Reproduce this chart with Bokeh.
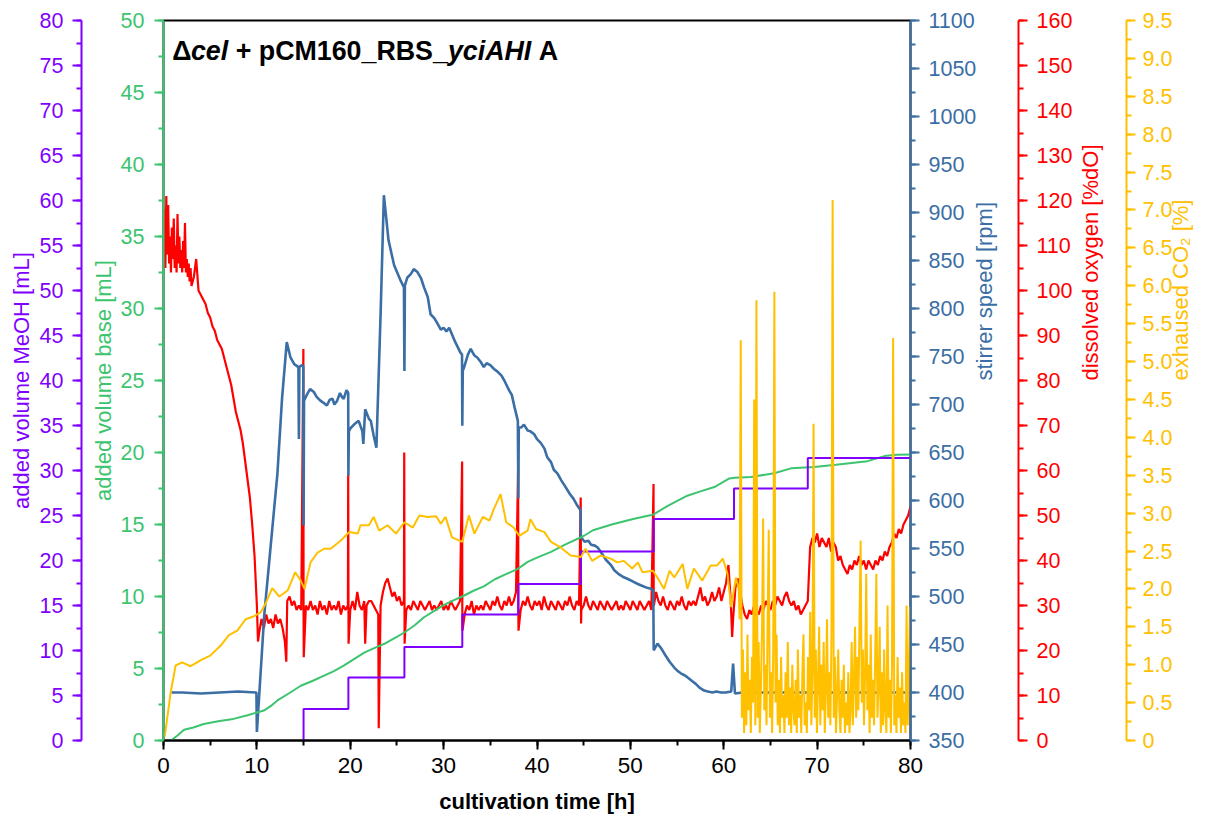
import math
from bokeh.plotting import figure
from bokeh.models import (Range1d, LinearAxis, SingleIntervalTicker, FixedTicker,
                          CustomJSTickFormatter, Label)
from bokeh.embed import file_html
from bokeh.resources import INLINE

# ---------------------------------------------------------------- data
# added volume MeOH [mL] (step function)
meoh_time_h = [15.0, 15.0, 19.8, 25.8, 32.0, 38.0, 44.7, 52.5, 61.1, 69.0, 80.0]
meoh_ml = [0.0, 3.5, 7.0, 10.4, 14.0, 17.4, 21.0, 24.6, 28.0, 31.4, 31.4]

# added volume base [mL]
base_time_h = [0.8, 1.5, 2.2, 3.2, 4.3, 6.0, 7.5, 9.0, 10.0, 10.75,
               11.5, 12.2, 13.5, 14.7, 16.0, 17.2, 18.2, 19.3, 20.4, 21.5,
               22.5, 23.6, 24.7, 25.8, 26.9, 27.9, 29.0, 30.0, 31.1, 32.2,
               33.2, 34.3, 35.5, 36.5, 37.9, 39.0, 40.0, 41.5, 43.0, 45.0,
               46.0, 48.0, 50.4, 52.5, 54.0, 56.1, 57.5, 59.0, 60.6, 61.2,
               62.9, 65.4, 67.2, 69.7, 72.0, 75.4, 77.2, 78.5, 80.0]
base_ml = [0.0, 0.35, 0.74, 0.9, 1.15, 1.35, 1.5, 1.75, 1.95, 2.08,
           2.4, 2.78, 3.3, 3.8, 4.15, 4.5, 4.8, 5.2, 5.65, 6.1,
           6.4, 6.7, 7.1, 7.5, 8.0, 8.56, 9.0, 9.4, 9.75, 10.07,
           10.4, 10.7, 11.2, 11.5, 11.9, 12.4, 12.7, 13.1, 13.6, 14.2,
           14.6, 15.0, 15.4, 15.7, 16.3, 17.0, 17.3, 17.6, 18.2, 18.25,
           18.3, 18.56, 18.9, 19.0, 19.15, 19.4, 19.75, 19.85, 19.86]

# stirrer speed [rpm]
stirrer_time_h = [0.85, 2.0, 4.0, 6.0, 8.0, 9.95, 10.0, 10.8, 11.3, 12.2,
                  12.7, 13.2, 13.6, 14.0, 14.45, 14.5, 14.55, 14.8, 14.97, 15.0,
                  15.05, 15.4, 15.7, 16.1, 16.4, 16.8, 17.1, 17.5, 17.8, 18.1,
                  18.3, 18.6, 18.9, 19.1, 19.3, 19.6, 19.78, 19.8, 19.85, 20.0,
                  20.5, 20.9, 21.3, 21.4, 21.6, 22.0, 22.2, 22.5, 22.8, 23.25,
                  23.6, 24.1, 24.7, 25.4, 25.75, 25.8, 25.85, 26.1, 26.5, 26.8,
                  27.2, 27.6, 27.9, 28.3, 28.6, 29.0, 29.3, 29.7, 30.0, 30.3,
                  30.6, 31.2, 31.8, 31.97, 32.0, 32.05, 32.2, 32.6, 32.9, 33.3,
                  33.6, 34.0, 34.3, 34.6, 35.0, 35.4, 35.8, 36.2, 36.5, 37.0,
                  37.3, 37.6, 37.95, 38.0, 38.05, 38.3, 38.6, 39.0, 39.3, 39.7,
                  40.0, 40.4, 40.8, 41.1, 41.5, 41.8, 42.2, 42.6, 43.0, 43.5,
                  43.9, 44.3, 44.65, 44.7, 45.1, 45.5, 45.8, 46.2, 46.5, 47.0,
                  47.4, 47.9, 48.3, 48.8, 49.3, 49.8, 50.4, 50.8, 51.3, 51.8,
                  52.2, 52.45, 52.5, 52.9, 53.3, 53.8, 54.2, 54.7, 55.0, 55.4,
                  55.8, 56.1, 56.6, 57.0, 57.4, 57.9, 58.3, 58.8, 59.2, 59.7,
                  60.2, 60.8, 61.0, 61.2, 62.0, 65.0, 70.0, 75.0, 80.0]
stirrer_rpm = [400, 400, 399, 400, 401, 400, 359, 482, 534, 628,
               707, 765, 749, 742, 739, 664, 739, 741, 740, 574,
               704, 711, 716, 713, 708, 704, 702, 699, 705, 706,
               700, 704, 712, 708, 706, 715, 712, 626, 672, 675,
               680, 683, 672, 659, 695, 685, 683, 668, 655, 794,
               918, 871, 845, 829, 822, 735, 824, 832, 836, 841,
               838, 831, 822, 812, 794, 790, 785, 778, 780, 776,
               780, 766, 754, 752, 678, 735, 739, 752, 758, 751,
               749, 744, 739, 743, 741, 737, 734, 730, 725, 715,
               710, 697, 683, 602, 676, 676, 679, 673, 672, 669,
               664, 660, 654, 645, 640, 632, 628, 621, 615, 607,
               602, 595, 590, 562, 557, 558, 554, 553, 551, 544,
               538, 533, 527, 523, 520, 518, 515, 513, 511, 509,
               508, 506, 444, 451, 446, 438, 432, 426, 423, 420,
               418, 416, 412, 409, 405, 402, 401, 400, 401, 400,
               400, 401, 430, 399, 400, 400, 400, 400, 400]

# dissolved oxygen [%dO]: 0-3 h every 0.1 h
do_start_pct = [110, 118, 105, 121, 108, 119, 106, 112, 104, 114,
                107, 116, 105, 110, 104, 117, 106, 112, 105, 109,
                104, 111, 105, 115, 104, 107, 103, 106, 102, 105, 101]
# 3.25-10.0 h every 0.25 h
do_decline_pct = [103, 107, 100, 99, 98, 97, 95, 94, 92, 91,
                  89, 88, 87, 85, 83, 81, 79, 76, 73, 71,
                  69, 66, 62, 58, 54, 48, 41, 30]
# 10.25-80 h every 0.25 h, one row per hour
do_hourly_pct = [
    [24, 27, 25, 28], [26, 27, 25, 28], [26, 27, 25, 22], [31, 32, 30, 31],  # 10-13
    [29, 30, 29, 29], [30, 29, 31, 29], [30, 28, 31, 29], [30, 28, 31, 29],  # 14-17
    [30, 29, 31, 28], [30, 29, 30, 29], [31, 29, 33, 30], [29, 31, 30, 31],  # 18-21
    [31, 30, 29, 28], [30, 33, 35, 36], [34, 32, 33, 31], [32, 30, 31, 29],  # 22-25
    [30, 29, 31, 30], [29, 31, 30, 29], [30, 31, 29, 30], [29, 30, 31, 29],  # 26-29
    [30, 29, 31, 30], [29, 30, 31, 30], [28, 30, 29, 31], [28, 30, 29, 30],  # 30-33
    [29, 31, 30, 29], [31, 30, 32, 30], [29, 31, 30, 32], [30, 31, 33, 30],  # 34-37
    [29, 31, 30, 32], [30, 29, 31, 30], [31, 29, 32, 30], [29, 31, 30, 29],  # 38-41
    [31, 30, 29, 31], [30, 32, 30, 29], [31, 30, 29, 30], [32, 30, 29, 31],  # 42-45
    [30, 29, 31, 30], [29, 31, 30, 29], [30, 31, 29, 30], [29, 31, 30, 29],  # 46-49
    [31, 30, 29, 31], [30, 29, 30, 31], [29, 31, 33, 31], [30, 32, 30, 29],  # 50-53
    [31, 30, 29, 31], [30, 32, 30, 29], [31, 30, 31, 30], [32, 34, 31, 32],  # 54-57
    [30, 31, 33, 31], [32, 34, 31, 33], [35, 39, 31, 27], [34, 36, 33, 30],  # 58-61
    [28, 27, 29, 28], [30, 29, 28, 30], [29, 31, 30, 29], [31, 30, 32, 31],  # 62-65
    [30, 32, 33, 31], [30, 31, 29, 30], [28, 29, 30, 31], [43, 45, 44, 46],  # 66-69
    [43, 45, 44, 43], [45, 42, 44, 43], [40, 41, 39, 38], [37, 39, 38, 40],  # 70-73
    [39, 41, 39, 40], [38, 40, 39, 38], [40, 39, 41, 40], [42, 41, 43, 44],  # 74-77
    [46, 45, 47, 46], [48, 49, 50, 52],                                      # 78-79
]
# short excursions (sampling / feeding events)
do_event_time_h = [10.12, 13.15, 14.98, 15.02, 19.78, 19.82, 21.6, 23.05, 25.78, 25.82,
                   31.98, 32.02, 37.98, 38.02, 44.68, 44.72, 52.48, 52.52, 60.9]
do_event_pct = [22, 17.5, 87, 18.5, 59, 21.5, 21.5, 2.7, 64, 21.5,
                62, 24.4, 60.7, 24.4, 54, 26, 57, 30, 23]

# exhaused CO2 [%]
co2_time_h = [0.1, 0.2, 0.75, 1.3, 2.0, 2.9, 4.0, 5.0, 6.1, 7.0,
              7.9, 8.8, 9.7, 10.4, 10.9, 11.65, 12.4, 13.3, 14.1, 14.7,
              15.1, 15.75, 16.5, 17.2, 17.9, 19.0, 19.9, 20.8, 21.1, 22.0,
              22.5, 23.1, 24.0, 24.9, 25.8, 26.7, 27.4, 28.3, 29.2, 29.7,
              30.2, 30.9, 32.0, 32.7, 33.3, 34.2, 34.9, 35.4, 36.1, 36.7,
              37.5, 38.1, 39.0, 39.3, 39.9, 40.8, 41.5, 42.5, 43.6, 44.7,
              45.2, 45.9, 46.8, 47.9, 48.6, 49.3, 50.2, 50.8, 51.3, 52.4,
              52.9, 53.6, 54.2, 54.7, 55.6, 56.1, 56.8, 57.7, 58.6, 59.3,
              59.9, 60.4, 60.8, 61.3, 61.6]
co2_pct = [0.05, 0.11, 0.62, 0.99, 1.03, 0.98, 1.06, 1.12, 1.25, 1.39,
           1.45, 1.6, 1.64, 1.69, 1.8, 2.01, 1.9, 1.98, 2.22, 2.11,
           2.0, 2.35, 2.48, 2.53, 2.53, 2.64, 2.75, 2.73, 2.84, 2.84,
           2.95, 2.77, 2.84, 2.73, 2.88, 2.81, 2.97, 2.95, 2.96, 2.86,
           2.95, 2.68, 2.62, 2.97, 2.73, 2.95, 2.9, 3.06, 3.25, 2.88,
           2.81, 2.7, 2.77, 2.92, 2.79, 2.75, 2.62, 2.55, 2.44, 2.42,
           2.53, 2.37, 2.44, 2.4, 2.35, 2.37, 2.27, 2.35, 2.22, 2.24,
           2.15, 2.0, 2.24, 2.15, 2.33, 2.0, 2.27, 2.11, 2.31, 2.31,
           2.4, 2.2, 1.76, 2.15, 2.0]
# 61.70-79.94 h every 0.12 h (unstable off-gas signal)
co2_late_pct = [1.6, 5.28, 0.3, 1.2, 0.1, 0.9, 0.2, 1.4, 0.4, 0.8,
                0.1, 1.1, 0.5, 4.5, 0.2, 5.81, 0.3, 1.3, 0.1, 0.7,
                1.5, 2.93, 0.4, 1.0, 0.2, 1.6, 2.78, 0.3, 0.9, 0.1,
                1.2, 5.92, 0.5, 1.4, 0.2, 0.8, 0.1, 1.1, 0.3, 0.6,
                0.1, 0.9, 0.3, 1.3, 0.2, 0.7, 0.1, 1.0, 0.4, 0.2,
                0.8, 0.1, 1.2, 0.3, 0.6, 0.1, 0.9, 1.4, 0.2, 0.5,
                0.1, 1.1, 0.4, 1.7, 0.2, 0.9, 4.18, 0.3, 1.2, 0.1,
                0.8, 1.5, 0.2, 1.0, 0.4, 1.3, 0.1, 0.7, 1.6, 0.3,
                0.9, 0.2, 1.4, 7.13, 0.3, 1.1, 0.1, 0.6, 1.2, 0.4,
                0.1, 0.8, 0.3, 1.0, 0.1, 0.5, 0.2, 0.9, 0.1, 0.4,
                1.3, 0.2, 0.8, 1.5, 0.3, 1.1, 0.4, 1.6, 2.64, 0.5,
                1.2, 0.2, 0.9, 2.2, 0.4, 1.0, 0.1, 1.4, 0.3, 0.8,
                0.2, 1.1, 2.2, 0.3, 0.7, 1.5, 0.1, 0.9, 0.2, 1.2,
                0.4, 0.1, 1.78, 0.3, 0.8, 0.1, 1.0, 5.31, 0.2, 0.6,
                0.1, 1.1, 0.3, 0.7, 0.1, 0.9, 0.2, 0.5, 0.1, 1.78,
                0.2, 0.9, 1.76]

title_parts = ["\u0394", "cel", "+ pCM160_RBS_", "yciAHI", "A"]
x_label = "cultivation time [h]"
labels = {
    "meoh": "added volume MeOH [mL]",
    "base": "added volume base [mL]",
    "rpm": "stirrer speed [rpm]",
    "do": "dissolved oxygen [%dO]",
    "co2": "exhaused CO\u2082 [%]",
}

# ---------------------------------------------------------------- assemble series
do_t, do_v = [], []
for i, v in enumerate(do_start_pct):
    do_t.append(round(0.1 * i, 2)); do_v.append(v)
for i, v in enumerate(do_decline_pct):
    do_t.append(3.25 + 0.25 * i); do_v.append(v)
for h, row in enumerate(do_hourly_pct):
    for j, v in enumerate(row):
        do_t.append(10 + h + 0.25 * (j + 1)); do_v.append(v)
pairs = sorted(list(zip(do_t, do_v)) + list(zip(do_event_time_h, do_event_pct)))
do_t = [a for a, b in pairs]
do_v = [b for a, b in pairs]

co2_t = list(co2_time_h) + [61.7 + 0.12 * k for k in range(len(co2_late_pct))]
co2_v = list(co2_pct) + list(co2_late_pct)

# ---------------------------------------------------------------- styling
FONT = "Liberation Sans"
PURPLE = "#7F00FF"
GREEN = "#3CC46E"
BLUE = "#3A6EA5"
RED = "#FF0000"
YELLOW = "#FFC000"

p = figure(frame_width=747, frame_height=720,
           x_range=Range1d(0, 80), y_range=Range1d(0, 50),
           output_backend="svg", toolbar_location=None,
           min_border_left=163, min_border_top=20, min_border_bottom=10,
           min_border_right=0)
p.extra_y_ranges = {
    "meoh": Range1d(0, 80),
    "rpm": Range1d(350, 1100),
    "do": Range1d(0, 160),
    "co2": Range1d(0, 9.5),
}
p.xgrid.visible = False
p.ygrid.visible = False
p.outline_line_color = "black"
p.outline_line_width = 2
p.background_fill_color = "white"
p.border_fill_color = "white"


def style(ax, color, label, interval, label_standoff, axis_standoff, right=False):
    ax.ticker = SingleIntervalTicker(interval=interval, num_minor_ticks=2)
    ax.axis_line_color = color
    ax.axis_line_width = 2
    ax.major_tick_line_color = color
    ax.major_tick_line_width = 2
    ax.minor_tick_line_color = color
    ax.minor_tick_line_width = 2
    ax.major_tick_out = 9
    ax.major_tick_in = 0
    ax.minor_tick_out = 5
    ax.minor_tick_in = 0
    ax.major_label_text_color = color
    ax.major_label_text_font = FONT
    ax.major_label_text_font_size = "21.5px"
    ax.major_label_standoff = label_standoff
    ax.axis_label = label
    ax.axis_label_text_color = color
    ax.axis_label_text_font = FONT
    ax.axis_label_text_font_size = "22px"
    ax.axis_label_text_font_style = "normal"
    ax.axis_label_standoff = axis_standoff
    if right and "axis_label_orientation" in ax.properties():
        ax.axis_label_orientation = math.pi / 2


def spacer(size, rng, at):
    # blank axis used only to open a gap between two neighbouring axes
    return LinearAxis(y_range_name=rng, ticker=FixedTicker(ticks=[at], minor_ticks=[]),
                      formatter=CustomJSTickFormatter(code="return '';"),
                      axis_line_color=None, major_tick_line_color="white",
                      major_tick_line_width=1, minor_tick_line_color=None,
                      major_tick_out=size, major_tick_in=0, minor_tick_out=0,
                      minor_tick_in=0, major_label_standoff=0)


# x axis
xa = p.xaxis[0]
xa.ticker = SingleIntervalTicker(interval=10, num_minor_ticks=2)
xa.axis_line_color = "black"
xa.axis_line_width = 2
xa.major_tick_line_color = "black"
xa.major_tick_line_width = 2
xa.minor_tick_line_color = "black"
xa.minor_tick_line_width = 2
xa.major_tick_out = 9
xa.major_tick_in = 0
xa.minor_tick_out = 5
xa.minor_tick_in = 0
xa.major_label_text_font = FONT
xa.major_label_text_font_size = "22.5px"
xa.major_label_text_color = "black"
xa.major_label_standoff = 8
xa.axis_label = x_label
xa.axis_label_text_font = FONT
xa.axis_label_text_font_size = "22px"
xa.axis_label_text_font_style = "bold"
xa.axis_label_text_color = "black"
xa.axis_label_standoff = 13

# left axes: base (inner), MeOH (outer)
style(p.yaxis[0], GREEN, labels["base"], 5, 10, 2)
p.add_layout(spacer(6, "meoh", 80), "left")
ax_meoh = LinearAxis(y_range_name="meoh")
style(ax_meoh, PURPLE, labels["meoh"], 5, 9, 3)
p.add_layout(ax_meoh, "left")

# right axes: rpm, DO, CO2
ax_rpm = LinearAxis(y_range_name="rpm")
style(ax_rpm, BLUE, labels["rpm"], 50, 9, 5, right=True)
p.add_layout(ax_rpm, "right")
p.add_layout(spacer(6, "rpm", 1100), "right")
ax_do = LinearAxis(y_range_name="do")
style(ax_do, RED, labels["do"], 10, 9, 15, right=True)
p.add_layout(ax_do, "right")
p.add_layout(spacer(8, "do", 160), "right")
ax_co2 = LinearAxis(y_range_name="co2")
style(ax_co2, YELLOW, labels["co2"], 0.5, 7, 5, right=True)
ax_co2.formatter = CustomJSTickFormatter(code="return tick == 0 ? '0' : tick.toFixed(1);")
p.add_layout(ax_co2, "right")

# ---------------------------------------------------------------- series
p.line(do_t, do_v, y_range_name="do", color=RED, line_width=2.2)
p.line(stirrer_time_h, stirrer_rpm, y_range_name="rpm", color=BLUE, line_width=2.6)
p.line(base_time_h, base_ml, color=GREEN, line_width=2)
p.step(meoh_time_h, meoh_ml, mode="after", y_range_name="meoh", color=PURPLE, line_width=2)
p.line(co2_t, co2_v, y_range_name="co2", color=YELLOW, line_width=2)

# ---------------------------------------------------------------- title (mixed styles)
TS = 26.8
adv = {"\u0394": 0.70, "cel": 1.390, "+ pCM160_RBS_": 7.919, "yciAHI": 3.112}
styles = ["bold", "bold italic", "bold", "bold italic", "bold"]
x_off = 8.7
for part, st in zip(title_parts, styles):
    p.add_layout(Label(x=0, y=50, x_offset=x_off, y_offset=-30, text=part,
                       text_font=FONT, text_font_size=f"{TS}px", text_font_style=st,
                       text_color="black", text_baseline="alphabetic"))
    if part in adv:
        x_off += adv[part] * TS + 0.278 * TS * (part in ("cel", "yciAHI"))

open("out.html", "w").write(file_html(p, INLINE))
